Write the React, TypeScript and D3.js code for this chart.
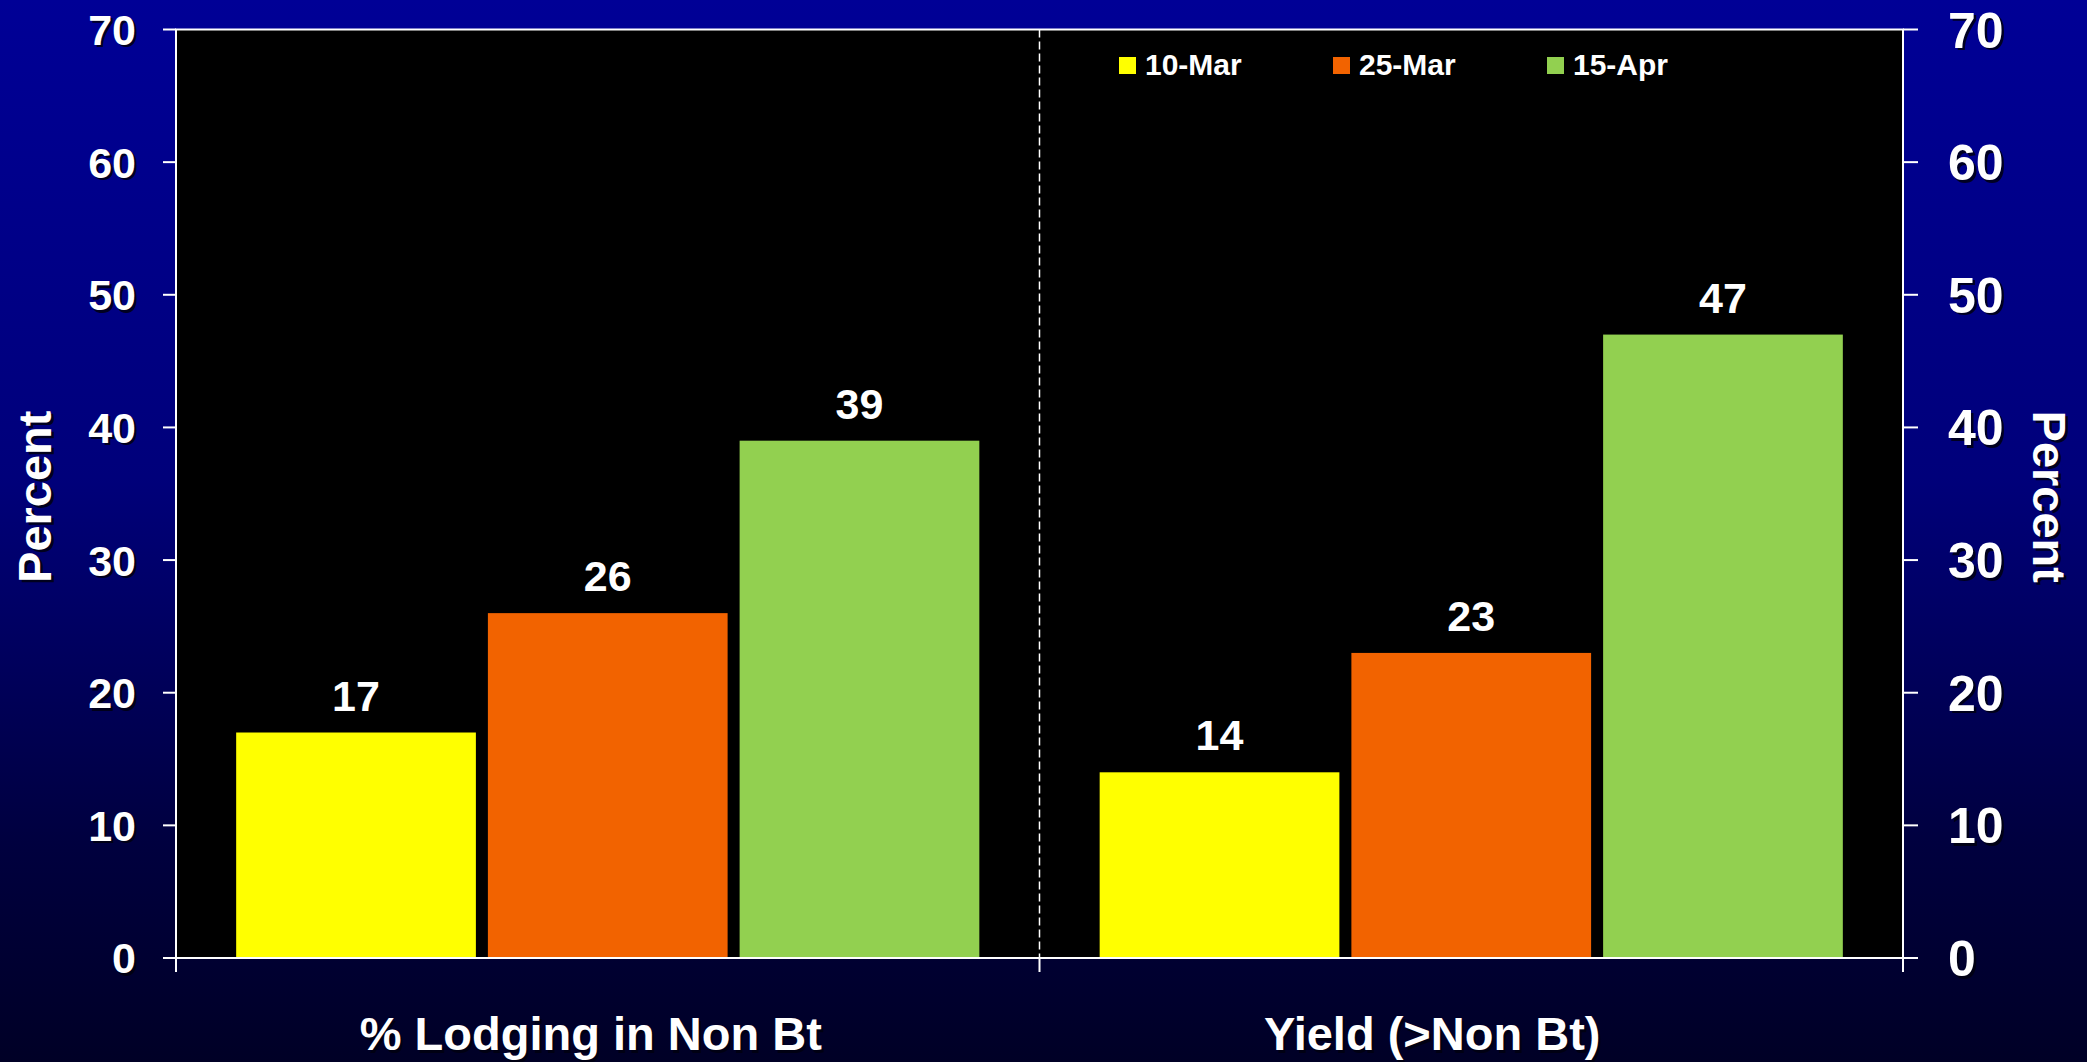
import React from "react";
import * as d3 from "d3";

const categories = ["% Lodging in Non Bt", "Yield (>Non Bt)"];
const seriesNames = ["10-Mar", "25-Mar", "15-Apr"];
const seriesColors = ["#FFFF00", "#F26300", "#92D050"];
const lodgingValues = [17, 26, 39];
const yieldValues = [14, 23, 47];
const yTicks = [0, 10, 20, 30, 40, 50, 60, 70];

const W = 2087;
const H = 1062;
const M = { left: 176, right: 1903, top: 29.5, bottom: 958 };
const FONT = "'Liberation Sans', Arial, Helvetica, sans-serif";
// horizontal nudge of the category labels relative to their band centres
const CAT_LABEL_NUDGE = [-17, -39];

export default function App() {
  const data = [lodgingValues, yieldValues];
  const x0 = d3.scaleBand<string>().domain(categories).range([M.left, M.right]).padding(0);
  const x1 = d3
    .scaleBand<string>()
    .domain(seriesNames)
    .range([0, x0.bandwidth()])
    .paddingInner(0.0477)
    .paddingOuter(0.239);
  const y = d3.scaleLinear().domain([0, 70]).range([M.bottom, M.top]);

  const boundaries = [M.left, ...categories.map((c) => (x0(c) as number) + x0.bandwidth())];
  const midLine = x0(categories[1]) as number;

  const shadowText = (key: string, props: any, content: string) => (
    <g key={key}>
      <text {...props} fill="#000010" opacity={0.85} transform={`translate(2.5,2.5) ${props.transform || ""}`}>
        {content}
      </text>
      <text {...props} fill="#ffffff">
        {content}
      </text>
    </g>
  );

  return (
    <>
      <style>{`body{margin:0;}`}</style>
      <svg width={W} height={H} style={{ display: "block" }} fontFamily={FONT}>
        <defs>
          <linearGradient id="bg" x1="0" y1="0" x2="0" y2="1">
            <stop offset="0" stopColor="#000096" />
            <stop offset="0.45" stopColor="#00007A" />
            <stop offset="0.8" stopColor="#00003E" />
            <stop offset="1" stopColor="#000026" />
          </linearGradient>
        </defs>
        <rect x={0} y={0} width={W} height={H} fill="url(#bg)" />
        <rect x={M.left} y={M.top} width={M.right - M.left} height={M.bottom - M.top} fill="#000000" />

        {/* dashed separator */}
        <line
          x1={midLine}
          x2={midLine}
          y1={M.top}
          y2={M.bottom}
          stroke="#ffffff"
          strokeWidth={1.5}
          strokeDasharray="8,4"
        />

        {/* bars */}
        {categories.map((c, ci) =>
          seriesNames.map((s, si) => {
            const v = data[ci][si];
            const bx = (x0(c) as number) + (x1(s) as number);
            return (
              <rect
                key={`${c}-${s}`}
                x={bx}
                y={y(v)}
                width={x1.bandwidth()}
                height={y(0) - y(v)}
                fill={seriesColors[si]}
              />
            );
          })
        )}

        {/* value labels */}
        {categories.map((c, ci) =>
          seriesNames.map((s, si) => {
            const v = data[ci][si];
            const cx = (x0(c) as number) + (x1(s) as number) + x1.bandwidth() / 2;
            return (
              <text
                key={`lbl-${c}-${s}`}
                x={cx}
                y={y(v) - 22}
                textAnchor="middle"
                fontSize={43}
                fontWeight="bold"
                fill="#ffffff"
              >
                {v}
              </text>
            );
          })
        )}

        {/* frame */}
        <rect
          x={M.left}
          y={M.top}
          width={M.right - M.left}
          height={M.bottom - M.top}
          fill="none"
          stroke="#ffffff"
          strokeWidth={2}
        />

        {/* y ticks */}
        {yTicks.map((t) => (
          <g key={`yt-${t}`}>
            <line x1={M.left - 13} x2={M.left} y1={y(t)} y2={y(t)} stroke="#ffffff" strokeWidth={2} />
            <line x1={M.right} x2={M.right + 15} y1={y(t)} y2={y(t)} stroke="#ffffff" strokeWidth={2} />
          </g>
        ))}
        {/* x ticks */}
        {boundaries.map((b, i) => (
          <line key={`xt-${i}`} x1={b} x2={b} y1={M.bottom} y2={M.bottom + 14} stroke="#ffffff" strokeWidth={2} />
        ))}

        {/* y tick labels */}
        {yTicks.map((t) =>
          shadowText(
            `yl-${t}`,
            { x: 136, y: y(t), dy: "0.36em", textAnchor: "end", fontSize: 43, fontWeight: "bold" },
            String(t)
          )
        )}
        {yTicks.map((t) =>
          shadowText(
            `yr-${t}`,
            { x: 1948, y: y(t), dy: "0.36em", textAnchor: "start", fontSize: 50, fontWeight: "bold" },
            String(t)
          )
        )}

        {/* axis titles */}
        {shadowText(
          "ytitle-l",
          {
            x: 0,
            y: 0,
            textAnchor: "middle",
            fontSize: 47,
            fontWeight: "bold",
            transform: `translate(51,${(M.top + M.bottom) / 2 + 3}) rotate(-90)`,
          },
          "Percent"
        )}
        {shadowText(
          "ytitle-r",
          {
            x: 0,
            y: 0,
            textAnchor: "middle",
            fontSize: 47,
            fontWeight: "bold",
            transform: `translate(2033,${(M.top + M.bottom) / 2 + 3}) rotate(90)`,
          },
          "Percent"
        )}

        {/* category labels */}
        {categories.map((c, i) =>
          shadowText(
            `cat-${c}`,
            {
              x: (x0(c) as number) + x0.bandwidth() / 2 + CAT_LABEL_NUDGE[i],
              y: 1050,
              textAnchor: "middle",
              fontSize: 47,
              fontWeight: "bold",
            },
            c
          )
        )}

        {/* legend */}
        {seriesNames.map((s, i) => (
          <g key={`lg-${s}`} transform={`translate(${1119 + i * 214},0)`}>
            <rect x={0} y={57} width={17} height={17} fill={seriesColors[i]} />
            <text x={26} y={75} fontSize={30} fontWeight="bold" fill="#ffffff">
              {s}
            </text>
          </g>
        ))}
      </svg>
    </>
  );
}
